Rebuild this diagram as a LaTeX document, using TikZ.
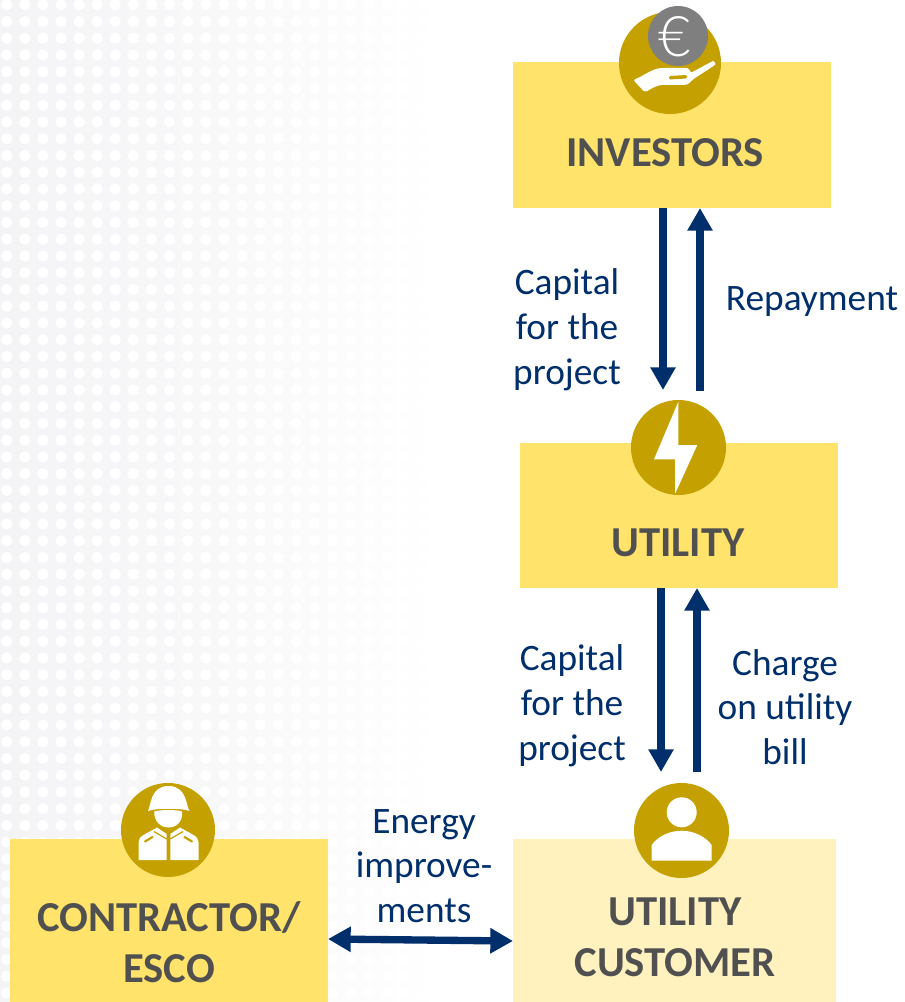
\documentclass[tikz,border=0pt]{standalone}
\usepackage{fontspec}
\setmainfont{Carlito}
\newfontfamily\eurofont{Lato Light}
\definecolor{boxy}{HTML}{FFE36B}
\definecolor{boxl}{HTML}{FFF2BF}
\definecolor{gold}{HTML}{C4A000}
\definecolor{navy}{HTML}{002F6C}
\definecolor{titlec}{HTML}{505050}
\definecolor{coin}{HTML}{7F7F7F}
\definecolor{bgg}{HTML}{F4F4F6}
\usetikzlibrary{arrows.meta}
\tikzset{
  x=0.75pt,y=-0.75pt,
  boxn/.style={draw=none,inner sep=0pt,outer sep=0pt,align=center,text=titlec,font=\fontsize{32pt}{38.4pt}\selectfont\bfseries},
  badge/.style={circle,fill=gold,inner sep=0pt,outer sep=0pt},
  lab/.style={inner sep=0pt,align=center,text=navy,font=\fontsize{28pt}{33.6pt}\selectfont},
  arr/.style={draw=navy,line width=6pt,-{Triangle[length=17pt,width=18pt]}},
  arrd/.style={draw=navy,line width=5.5pt,{Triangle[length=17pt,width=18pt]}-{Triangle[length=17pt,width=18pt]}},
  ico/.style={fill=white,draw=none},
}
\begin{document}
\begin{tikzpicture}
\useasboundingbox (0,0) rectangle (905,1002);
% background
\shade[left color=bgg,right color=white,middle color=bgg!60!white] (0,0) rectangle (445,1002);
\foreach \i in {0,...,24}{\foreach \j in {0,...,59}{
  \fill[white] (6.7+18.1*\i,4.7+16.75*\j) circle[radius=5.6];
}}
% boxes
\node[boxn,fill=boxy,minimum width=318*0.75pt,minimum height=146*0.75pt,anchor=north west] (inv) at (513,62) {};
\node[boxn,fill=boxy,minimum width=318*0.75pt,minimum height=145*0.75pt,anchor=north west] (uti) at (520,443) {};
\node[boxn,fill=boxy,minimum width=318*0.75pt,minimum height=163*0.75pt,anchor=north west] (con) at (10,839) {};
\node[boxn,fill=boxl,minimum width=323*0.75pt,minimum height=163*0.75pt,anchor=north west] (cus) at (513,839) {};
% titles
\node[boxn] (tinv) at (665,153) {INVESTORS};
\node[boxn] (tuti) at (678,543) {UTILITY};
\node[boxn] (tcon) at (169,942) {CONTRACTOR/\\ESCO};
\node[boxn] (tcus) at (675,937) {UTILITY\\CUSTOMER};
% badges
\node[badge,minimum size=102*0.75pt] (binv) at (670,63) {};
\node[badge,fill=coin,minimum size=60*0.75pt] (bcoin) at (678,36) {};
\node[badge,minimum size=95*0.75pt] (buti) at (678.5,447.5) {};
\node[badge,minimum size=94*0.75pt] (bcon) at (168,830) {};
\node[badge,minimum size=95*0.75pt] (bcus) at (681.5,830.5) {};
% euro
\node[inner sep=0pt,text=white,font=\eurofont\fontsize{42pt}{42pt}\selectfont] (euro) at (675,37) {€};
% hand
\fill[ico,rounded corners=1.5pt] (633.3,80) .. controls (645,75) and (652,69) .. (662,68) -- (685,68) .. controls (689,68) and (690,71) .. (690.5,73) -- (711,62) .. controls (714,60.5) and (716,64) .. (713.5,66) -- (692,80) .. controls (689,84) and (687,85) .. (682,85) -- (664,85) .. controls (658,85) and (652,88) .. (645,92.5) -- cycle;
\fill[gold,rounded corners=1pt] (669,76) -- (687,75) -- (687,78.5) -- (669,79.5) -- cycle;
% bolt
\fill[ico] (678.3,401.7) -- (654,459.3) -- (675,459.3) -- (675,494) -- (697.3,445) -- (678.3,445) -- cycle;
% soldier
\fill[ico] (148,811) .. controls (151,806) and (150,786) .. (168.5,786) .. controls (187,786) and (186,806) .. (189.5,811) .. controls (183,808) and (155,808) .. cycle;
\fill[ico] (154.2,811.5) .. controls (160,809.5) and (177,809.5) .. (182.2,811.5) .. controls (183,822) and (176,827.5) .. (168.5,827.5) .. controls (161,827.5) and (154,822) .. cycle;
\fill[ico] (138.5,860) -- (138.5,842) .. controls (138.5,836) and (146,834) .. (157,827.5) -- (166.7,834) -- (166.7,860) -- cycle;
\fill[ico] (198.5,860) -- (198.5,842) .. controls (198.5,836) and (191,834) .. (180,827.5) -- (170.3,834) -- (170.3,860) -- cycle;
\draw[gold,line width=1.6pt,line cap=round] (145,841.5) -- (152.5,837) (192,841.5) -- (184.5,837);
\draw[gold,line width=0.9pt] (154,831.5) -- (166.7,839) (183,831.5) -- (170.3,839);
% person
\fill[ico] (681.7,812.3) circle[radius=15];
\fill[ico] (651.7,860.7) -- (651.7,845) .. controls (658,836) and (670,830.7) .. (681.7,830.7) .. controls (693,830.7) and (705,836) .. (711.7,845) -- (711.7,860.7) -- cycle;
% connectors
\coordinate (a1s) at (inv.south -| 663,0);
\coordinate (a2e) at (inv.south -| 700,0);
\coordinate (a3s) at (uti.south -| 661,0); \coordinate (a3e) at (661,772);
\coordinate (a4s) at (697,772); \coordinate (a4e) at (uti.south -| 697,0);
\draw[arr] (a1s) -- (663,390);
\draw[arr] (700,391) -- (a2e);
\draw[arr] (a3s) -- (a3e);
\draw[arr] (a4s) -- (a4e);
\coordinate (a5s) at (con.east |- 0,939); \coordinate (a5e) at (cus.west |- 0,941);
\draw[arrd] (a5s) -- (a5e);
% labels
\node[lab] (l1) at (567,330) {Capital\\for the\\project};
\node[lab] (l2) at (812,302) {Repayment};
\node[lab] (l3) at (572,706) {Capital\\for the\\project};
\node[lab] (l4) at (785,707) {Charge\\on utility\\bill};
\node[lab] (l5) at (424,866) {Energy\\improve-\\ments};
\end{tikzpicture}
\end{document}
